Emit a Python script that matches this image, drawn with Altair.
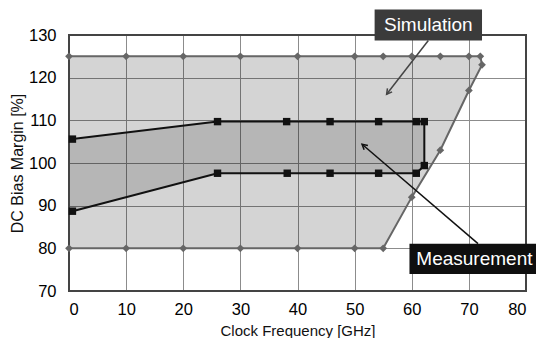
import altair as alt
import pandas as pd

# Simulation boundary (outline order)
sim_x = [0, 10, 20, 30, 40, 50, 55, 60, 65, 70, 72, 72.3, 70, 65, 60, 55, 50, 40, 30, 20, 10, 0]
sim_y = [125, 125, 125, 125, 125, 125, 125, 125, 125, 125, 125, 123, 117, 103, 92, 80, 80, 80, 80, 80, 80, 80]

# Simulation right edge (for the fill, as function of y)
sim_edge_y = [80, 92, 103, 117, 123, 125]
sim_edge_x = [55, 60, 65, 70, 72.3, 72]

# Measurement boundary (outline order)
meas_x = [0.6, 26, 38.1, 45.7, 54.2, 60.8, 62.2, 62.2, 60.8, 54.2, 45.7, 38.2, 26, 0.6]
meas_y = [105.6, 109.7, 109.7, 109.7, 109.7, 109.7, 109.7, 99.4, 97.6, 97.6, 97.6, 97.6, 97.6, 88.7]

# Measurement fill (top / bottom as function of x)
meas_fx = [0, 0.6, 26, 60.8, 62.2]
meas_top = [105.5, 105.6, 109.7, 109.7, 109.7]
meas_bot = [88.5, 88.7, 97.6, 97.6, 99.4]

# Annotations
labels = ["Simulation", "Measurement"]
box_x1 = [53.5, 59.6]
box_x2 = [72.3, 82]
box_y1 = [128.7, 74.0]
box_y2 = [136.0, 81.1]
text_x = [62.9, 60.8]
text_y = [132.3, 77.5]
arrow_x1 = [62.9, 71.6]
arrow_y1 = [128.7, 81.1]
arrow_x2 = [55.6, 51.3]
arrow_y2 = [116.1, 104.4]

X = alt.Scale(domain=[0, 80], nice=False)
Y = alt.Scale(domain=[70, 130], nice=False)
FONT = "Liberation Sans"

sim_df = pd.DataFrame({"x": sim_x, "y": sim_y, "o": range(len(sim_x))})
meas_df = pd.DataFrame({"x": meas_x, "y": meas_y, "o": range(len(meas_x))})
sim_fill_df = pd.DataFrame({"y": sim_edge_y, "x": sim_edge_x, "x0": [0] * len(sim_edge_y)})
meas_fill_df = pd.DataFrame({"x": meas_fx, "top": meas_top, "bot": meas_bot})
ann_df = pd.DataFrame({"label": labels, "bx1": box_x1, "bx2": box_x2, "by1": box_y1, "by2": box_y2,
                       "tx": text_x, "ty": text_y, "ax1": arrow_x1, "ay1": arrow_y1,
                       "ax2": arrow_x2, "ay2": arrow_y2})

xaxis = alt.Axis(values=list(range(0, 81, 10)), title="Clock Frequency [GHz]", ticks=False, domain=False,
                 grid=True, gridColor="#8c8c8c", gridWidth=1, labelFontSize=16.5, labelFont=FONT,
                 labelColor="#000", labelPadding=10, titleFont=FONT, titleFontSize=15,
                 titleFontWeight="normal", titleColor="#111", titlePadding=6)
yaxis = alt.Axis(values=list(range(70, 131, 10)), title="DC Bias Margin [%]", ticks=False, domain=False,
                 grid=True, gridColor="#8c8c8c", gridWidth=1, labelFontSize=16.5, labelFont=FONT,
                 labelColor="#000", labelPadding=13, titleFont=FONT, titleFontSize=16,
                 titleFontWeight="normal", titleColor="#111", titlePadding=3)

sim_fill = alt.Chart(sim_fill_df).mark_area(orient="horizontal", color="#000000", opacity=0.17).encode(
    y=alt.Y("y:Q", scale=Y, axis=yaxis),
    x=alt.X("x:Q", scale=X, axis=xaxis),
    x2="x0:Q",
)
meas_fill = alt.Chart(meas_fill_df).mark_area(color="#000000", opacity=0.14).encode(
    x=alt.X("x:Q", scale=X),
    y=alt.Y("top:Q", scale=Y),
    y2="bot:Q",
)
frame = alt.Chart(sim_fill_df).mark_rect(fill=None, stroke="#444444", strokeWidth=2, clip=False).encode(
    x=alt.value(0), x2=alt.value("width"), y=alt.value(0), y2=alt.value("height"))
sim_line = alt.Chart(sim_df).mark_line(color="#666666", strokeWidth=2).encode(
    x=alt.X("x:Q", scale=X), y=alt.Y("y:Q", scale=Y), order="o:Q")
sim_pts = alt.Chart(sim_df).mark_point(shape="diamond", filled=True, color="#666666", size=60, opacity=1).encode(
    x=alt.X("x:Q", scale=X), y=alt.Y("y:Q", scale=Y))
meas_line = alt.Chart(meas_df).mark_line(color="#111111", strokeWidth=2).encode(
    x=alt.X("x:Q", scale=X), y=alt.Y("y:Q", scale=Y), order="o:Q")
meas_pts = alt.Chart(meas_df).mark_point(shape="square", filled=True, color="#111111", size=55, opacity=1).encode(
    x=alt.X("x:Q", scale=X), y=alt.Y("y:Q", scale=Y))

arrow_colors = alt.Scale(domain=labels, range=["#444444", "#111111"])
arrows = alt.Chart(ann_df).mark_rule(strokeWidth=1.5, clip=False).encode(
    x=alt.X("ax1:Q", scale=X), y=alt.Y("ay1:Q", scale=Y), x2="ax2:Q", y2="ay2:Q",
    color=alt.Color("label:N", scale=arrow_colors, legend=None))
heads = alt.Chart(ann_df).mark_point(shape="M -0.55 1 L 0 0 L 0.55 1", filled=False, strokeWidth=1.5,
                                     size=110, opacity=1, clip=False).encode(
    x=alt.X("ax2:Q", scale=X), y=alt.Y("ay2:Q", scale=Y),
    color=alt.Color("label:N", scale=arrow_colors, legend=None),
    angle=alt.Angle("label:N", scale=alt.Scale(domain=labels, range=[217, 311]), legend=None))
boxes = alt.Chart(ann_df).mark_rect(clip=False).encode(
    x=alt.X("bx1:Q", scale=X), x2="bx2:Q", y=alt.Y("by1:Q", scale=Y), y2="by2:Q",
    fill=alt.Fill("label:N", scale=alt.Scale(domain=labels, range=["#3b3b3b", "#0f0f0f"]), legend=None))
sim_text = alt.Chart(ann_df[ann_df.label == "Simulation"]).mark_text(
    color="white", font=FONT, fontSize=19, align="center", baseline="middle", clip=False).encode(
    x=alt.X("tx:Q", scale=X), y=alt.Y("ty:Q", scale=Y), text="label:N")
meas_text = alt.Chart(ann_df[ann_df.label == "Measurement"]).mark_text(
    color="white", font=FONT, fontSize=19, align="left", baseline="middle", clip=False).encode(
    x=alt.X("tx:Q", scale=X), y=alt.Y("ty:Q", scale=Y), text="label:N")

chart = alt.layer(sim_fill, meas_fill, frame, sim_line, meas_line, sim_pts, meas_pts,
                  arrows, heads, boxes, sim_text, meas_text).properties(
    width=457, height=256,
    autosize=alt.AutoSizeParams(type="none"),
    padding={"left": 69, "top": 35, "right": 10, "bottom": 47},
    background="white",
).configure_view(stroke=None)

chart.save("out.html", embed_options={"renderer": "svg", "actions": False})
